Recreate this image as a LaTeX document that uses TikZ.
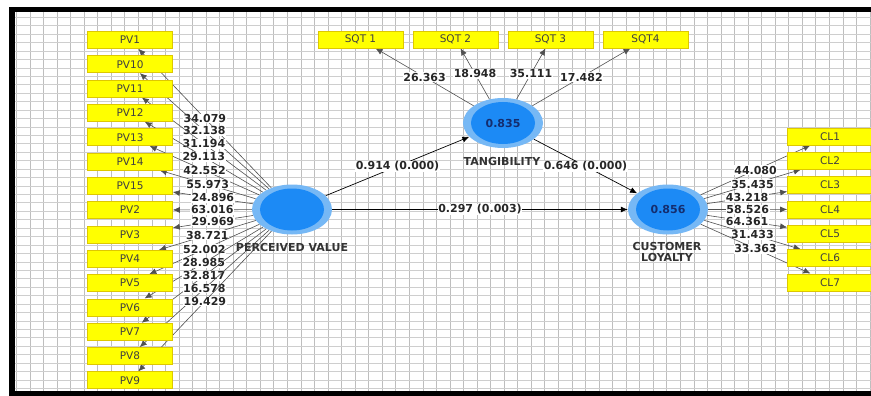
\documentclass[tikz,border=0pt]{standalone}
\usepackage{fontspec}
\setmainfont{DejaVu Sans}
\usetikzlibrary{arrows.meta, positioning, shapes.geometric}
\definecolor{indyellow}{RGB}{255,255,0}
\definecolor{indedge}{RGB}{222,200,0}
\definecolor{lvring}{RGB}{118,184,245}
\definecolor{lvblue}{RGB}{28,138,245}
\definecolor{lvtext}{RGB}{20,45,110}
\definecolor{gridgray}{RGB}{190,190,190}
\definecolor{linegray}{RGB}{80,80,80}
\pgfdeclarelayer{gridlayer}
\pgfdeclarelayer{edgelayer}
\pgfsetlayers{gridlayer,edgelayer,main}
\tikzset{
  ind/.style={rectangle, draw=indedge, fill=indyellow, line width=0.6pt,
    minimum width=85pt, minimum height=17pt, inner sep=0pt,
    font=\fontsize{10.5}{12}\selectfont, text=black!75},
  lv/.style={ellipse, fill=lvring, minimum width=80pt, minimum height=50pt, inner sep=0pt},
  lvin/.style={ellipse, fill=lvblue, minimum width=64pt, minimum height=42pt, inner sep=0pt,
    font=\fontsize{11}{13}\selectfont\bfseries, text=lvtext},
  lvname/.style={font=\fontsize{11}{11}\selectfont\bfseries, text=black!80, align=center, inner sep=0pt},
  load/.style={-{Latex[length=7pt,width=6pt]}, linegray, line width=0.6pt},
  rel/.style={-{Latex[length=7pt,width=6pt]}, black, line width=0.7pt},
  coef/.style={fill=white, inner sep=0.6pt, font=\fontsize{11}{12}\selectfont\bfseries, text=black!85}
}
\begin{document}
\begin{tikzpicture}[x=1pt, y=-1pt]
  \useasboundingbox (0,0) rectangle (871,396);
  \clip (0,0) rectangle (871,396);
  % grid and frame
  \begin{pgfonlayer}{gridlayer}
    \fill[white] (0,0) rectangle (871,396);
    \foreach \k in {0,...,63} \draw[gridgray, line width=0.8pt] (16.4+13.55*\k,12) -- (16.4+13.55*\k,391);
    \foreach \k in {-34,...,10} \draw[gridgray!75, line width=0.7pt] (15,304+8.43*\k) -- (871,304+8.43*\k);
    \draw[line width=5.5pt] (880,9.5) -| (12,393.5) -- (880,393.5);
  \end{pgfonlayer}
  % latent variables
  \node[lv] (pv) at (292,209.5) {};
  \node[lvin] (pvin) at (pv) {};
  \node[lvname] (pvname) at (292,247) {PERCEIVED VALUE};
  \node[lv] (tang) at (503,123) {};
  \node[lvin] (tangin) at (tang) {0.835};
  \node[lvname] (tangname) at (502,161) {TANGIBILITY};
  \node[lv] (cl) at (668,209.5) {};
  \node[lvin] (clin) at (cl) {0.856};
  \node[lvname] (clname) at (667,251.5) {CUSTOMER\\LOYALTY};
  % indicators
  \foreach \n/\v [count=\i from 0] in {1/34.079, 10/32.138, 11/31.194, 12/29.113, 13/42.552,
      14/55.973, 15/24.896, 2/63.016, 3/29.969, 4/38.721, 5/52.002, 6/28.985, 7/32.817,
      8/16.578, 9/19.429} {
    \node[ind] (pv\n) at (130,40+24.3*\i) {PV\n};
    \begin{pgfonlayer}{edgelayer}
      \draw[load] (pv) -- (pv\n) node[coef, midway] {\v};
    \end{pgfonlayer}
  }
  \foreach \n/\v [count=\i from 0] in {SQT 1/26.363, SQT 2/18.948, SQT 3/35.111, SQT4/17.482} {
    \node[ind] (sqt\i) at (360.5+95*\i,39.5) {\n};
    \begin{pgfonlayer}{edgelayer}
      \draw[load] (tang) -- (sqt\i) node[coef, midway] {\v};
    \end{pgfonlayer}
  }
  \foreach \v [count=\i] in {44.080, 35.435, 43.218, 58.526, 64.361, 31.433, 33.363} {
    \node[ind] (cl\i) at (830,136.5+24.3*\i-24.3) {CL\i};
    \begin{pgfonlayer}{edgelayer}
      \draw[load] (cl) -- (cl\i) node[coef, midway] {\v};
    \end{pgfonlayer}
  }
  % structural paths
  \begin{pgfonlayer}{edgelayer}
    \draw[rel] (pv) -- (tang) node[coef, midway] {0.914 (0.000)};
    \draw[rel] (tang) -- (cl) node[coef, midway] {0.646 (0.000)};
    \draw[rel] (pv) -- (cl) node[coef, midway] {0.297 (0.003)};
  \end{pgfonlayer}
\end{tikzpicture}
\end{document}
